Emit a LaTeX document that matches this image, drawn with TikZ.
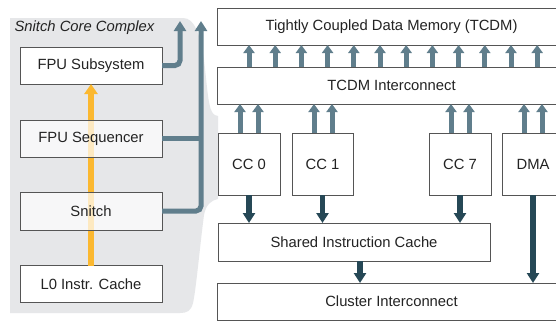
\documentclass[tikz,border=0pt]{standalone}
\usepackage{fontspec}
\setmainfont{Liberation Sans}
\usetikzlibrary{arrows.meta}
\definecolor{slate}{RGB}{96,126,140}
\definecolor{deepslate}{RGB}{38,72,86}
\definecolor{amber}{RGB}{251,184,48}
\definecolor{panel}{RGB}{230,231,233}
\definecolor{edge}{RGB}{85,85,85}
\definecolor{ink}{RGB}{35,35,35}
\newcommand\PortPair[1]{
  \draw[port] ([xshift=22pt]#1.north west) -- ([xshift=22pt]#1.north west |- tcdmic.south);
  \draw[port] ([xshift=40pt]#1.north west) -- ([xshift=40pt]#1.north west |- tcdmic.south);
}
\newcommand\MemPort[1]{
  \draw[port] ([xshift=#1pt]tcdmic.north west) -- ([xshift=#1pt]tcdm.south west);
}
\tikzstyle{box}=[rectangle,draw=edge,line width=0.8pt,fill=white,text=ink,inner sep=0pt,outer sep=0pt]
\tikzstyle{port}=[slate,line width=5pt,-{Triangle[width=11pt,length=8pt]}]
\tikzstyle{bus}=[slate,line width=5pt]
\tikzstyle{feed}=[deepslate,line width=5.5pt,-{Triangle[width=12pt,length=10pt]}]

\begin{document}
\begin{tikzpicture}[x=1pt,y=-1pt,font=\fontsize{14.8}{17}\selectfont]
  \clip (0,0) rectangle (556,322);
  \fill[white] (0,0) rectangle (556,322);

  % core complex panel
  \fill[panel] (10,18) -- (183,18) .. controls (195,18) and (200,35) .. (204,60)
    .. controls (207,85) and (208,105) .. (212,112) .. controls (214,115) and (216,116) .. (218,116)
    -- (218,199) .. controls (212,200) and (206,204) .. (204,215)
    .. controls (200,245) and (196,290) .. (193,303) .. controls (191,311) and (187,313) .. (180,313)
    -- (10,313) -- cycle;
  \node[anchor=west,text=ink] (cctitle) at (11,28) {\itshape Snitch Core Complex};

  \node[box,minimum width=142,minimum height=37] (fpuss) at (91,65.5) {FPU Subsystem};
  \node[box,minimum width=142,minimum height=37] (lzero) at (91,284) {L0 Instr. Cache};
  \draw[amber,line width=6pt,-{Triangle[width=13pt,length=10pt]}] (lzero.north) -- (fpuss.south);
  \node[box,fill opacity=0.7,text opacity=1,minimum width=142,minimum height=37] (fpuseq) at (91,138.5) {FPU Sequencer};
  \node[box,fill opacity=0.7,text opacity=1,minimum width=142,minimum height=38] (snitch) at (91,211) {Snitch};

  \coordinate (busl) at (180,21);
  \coordinate (busr) at (201,21);
  \draw[bus,rounded corners=5pt,-{Triangle[width=12pt,length=10pt]}] (fpuss.east) -| (busl);
  \draw[bus,rounded corners=5pt,-{Triangle[width=12pt,length=10pt]}] (snitch.east) -| (busr);
  \draw[bus] (fpuseq.east) -- (fpuseq.east -| busr);

  % cluster
  \node[box,minimum width=345,minimum height=37] (tcdm) at (389.5,26.5) {};
  \node[text=ink] at (391.5,26.5) {Tightly Coupled Data Memory (TCDM)};
  \node[box,minimum width=345,minimum height=37] (tcdmic) at (389.5,85.5) {};
  \node[text=ink] at (391.5,85.5) {TCDM Interconnect};
  \MemPort{32}
  \MemPort{58.2}
  \MemPort{84.4}
  \MemPort{110.6}
  \MemPort{136.8}
  \MemPort{163}
  \MemPort{189.2}
  \MemPort{215.4}
  \MemPort{241.6}
  \MemPort{267.8}
  \MemPort{294}
  \MemPort{320.2}

  \node[box,minimum width=62,minimum height=62] (cc0) at (249,164) {CC 0};
  \node[box,minimum width=61,minimum height=62] (cc1) at (322.5,164) {CC 1};
  \node[box,minimum width=62,minimum height=62] (cc7) at (460,164) {CC 7};
  \node[box,minimum width=62,minimum height=62] (dma) at (533,164) {DMA};
  \PortPair{cc0}
  \PortPair{cc1}
  \PortPair{cc7}
  \PortPair{dma}

  \node[box,minimum width=272,minimum height=38] (sic) at (354,242) {Shared Instruction Cache};
  \node[box,minimum width=345,minimum height=37] (clic) at (389.5,301.5) {};
  \node[text=ink] at (391.5,301.5) {Cluster Interconnect};
  \draw[feed] (cc0.south) -- (cc0.south |- sic.north);
  \draw[feed] (cc1.south) -- (cc1.south |- sic.north);
  \draw[feed] (cc7.south) -- (cc7.south |- sic.north);
  \draw[feed] ([xshift=6pt]sic.south) -- ([xshift=6pt]sic.south |- clic.north);
  \draw[feed] (dma.south) -- (dma.south |- clic.north);
\end{tikzpicture}
\end{document}
